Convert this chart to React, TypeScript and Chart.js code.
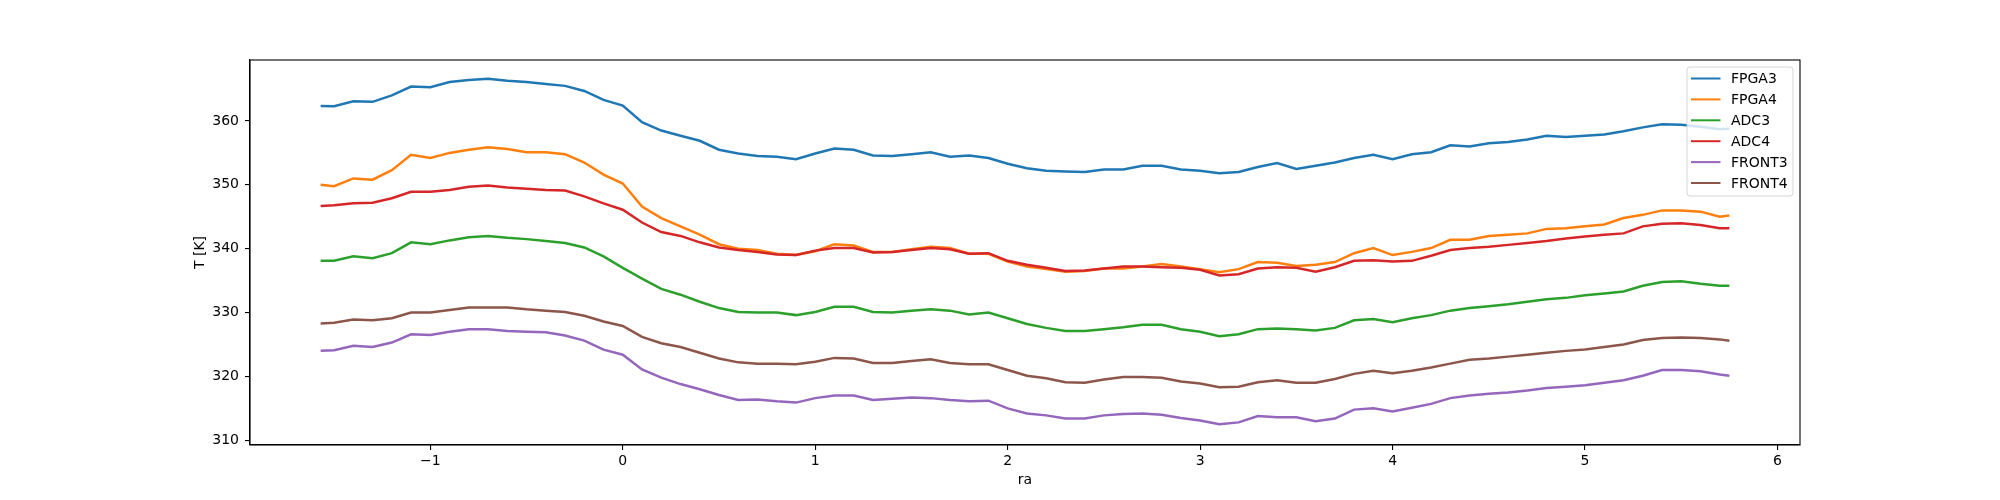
import { useEffect, useRef } from "react";
import { Chart, registerables } from "chart.js";

Chart.register(...registerables);

const RA = [
  -1.57, -1.5, -1.4, -1.3, -1.2, -1.1, -1.0, -0.9, -0.8, -0.7, -0.6, -0.5, -0.4, -0.3, -0.2, -0.1,
  0.0, 0.1, 0.2, 0.3, 0.4, 0.5, 0.6, 0.7, 0.8, 0.9, 1.0, 1.1, 1.2, 1.3, 1.4, 1.5, 1.6, 1.7, 1.8, 1.9,
  2.0, 2.1, 2.2, 2.3, 2.4, 2.5, 2.6, 2.7, 2.8, 2.9, 3.0, 3.1, 3.2, 3.3, 3.4, 3.5, 3.6, 3.7, 3.8, 3.9,
  4.0, 4.1, 4.2, 4.3, 4.4, 4.5, 4.6, 4.7, 4.8, 4.9, 5.0, 5.1, 5.2, 5.3, 5.4, 5.5, 5.6, 5.7, 5.75,
];

const FPGA3 = [
  362.35, 362.3, 363.1, 363.0, 364.0, 365.4, 365.3, 366.1, 366.4, 366.6, 366.3, 366.1, 365.8, 365.5, 364.7, 363.3,
  362.4, 359.8, 358.5, 357.7, 356.9, 355.5, 354.9, 354.5, 354.4, 354.0, 354.9, 355.7, 355.5, 354.6, 354.5, 354.8, 355.1, 354.4, 354.6, 354.2,
  353.3, 352.6, 352.2, 352.1, 352.0, 352.4, 352.4, 353.0, 353.0, 352.4, 352.2, 351.8, 352.0, 352.8, 353.4, 352.5, 353.0, 353.5, 354.2, 354.7,
  354.0, 354.8, 355.1, 356.2, 356.0, 356.5, 356.7, 357.1, 357.7, 357.5, 357.7, 357.9, 358.4, 359.0, 359.5, 359.4, 359.1, 358.7, 358.8,
];

const FPGA4 = [
  350.0, 349.8, 351.0, 350.8, 352.3, 354.7, 354.2, 355.0, 355.5, 355.9, 355.6, 355.1, 355.1, 354.8, 353.5, 351.6,
  350.2, 346.6, 344.8, 343.5, 342.2, 340.7, 340.0, 339.8, 339.2, 339.0, 339.6, 340.7, 340.5, 339.5, 339.5, 339.9, 340.3, 340.1, 339.2, 339.2,
  338.0, 337.2, 336.8, 336.4, 336.5, 336.9, 336.9, 337.2, 337.6, 337.2, 336.8, 336.3, 336.8, 337.9, 337.8, 337.3, 337.5, 337.9, 339.3, 340.1,
  339.0, 339.5, 340.1, 341.4, 341.4, 342.0, 342.2, 342.4, 343.1, 343.2, 343.5, 343.8, 344.8, 345.3, 346.0, 346.0, 345.8, 345.0, 345.2,
];

const ADC3 = [
  338.1, 338.1, 338.8, 338.5, 339.3, 341.0, 340.7, 341.3, 341.8, 342.0, 341.7, 341.5, 341.2, 340.9, 340.2, 338.8,
  337.0, 335.3, 333.7, 332.8, 331.7, 330.7, 330.1, 330.0, 330.0, 329.6, 330.1, 330.9, 330.9, 330.1, 330.0, 330.3, 330.5, 330.3, 329.7, 330.0,
  329.1, 328.2, 327.6, 327.1, 327.1, 327.4, 327.7, 328.1, 328.1, 327.4, 327.0, 326.3, 326.6, 327.4, 327.5, 327.4, 327.2, 327.6, 328.8, 329.0,
  328.5, 329.1, 329.6, 330.3, 330.7, 331.0, 331.3, 331.7, 332.1, 332.3, 332.7, 333.0, 333.3, 334.2, 334.8, 334.9, 334.5, 334.2, 334.2,
];

const ADC4 = [
  346.7, 346.8, 347.1, 347.2, 347.9, 348.9, 348.9, 349.2, 349.7, 349.9, 349.6, 349.4, 349.2, 349.1, 348.2, 347.1,
  346.1, 344.1, 342.6, 342.0, 341.0, 340.2, 339.8, 339.5, 339.1, 339.0, 339.7, 340.1, 340.1, 339.4, 339.5, 339.8, 340.1, 339.9, 339.2, 339.3,
  338.1, 337.5, 337.0, 336.5, 336.6, 336.9, 337.2, 337.2, 337.1, 337.0, 336.7, 335.8, 336.0, 336.9, 337.1, 337.0, 336.4, 337.1, 338.1, 338.2,
  338.0, 338.1, 338.9, 339.8, 340.1, 340.3, 340.6, 340.9, 341.2, 341.6, 341.9, 342.2, 342.4, 343.5, 343.9, 344.0, 343.7, 343.2, 343.2,
];

const FRONT3 = [
  324.0, 324.1, 324.8, 324.6, 325.3, 326.6, 326.5, 327.0, 327.4, 327.4, 327.1, 327.0, 326.9, 326.4, 325.6, 324.2,
  323.4, 321.1, 319.8, 318.8, 318.0, 317.1, 316.3, 316.4, 316.1, 315.9, 316.6, 317.0, 317.0, 316.3, 316.5, 316.7, 316.6, 316.3, 316.1, 316.2,
  315.0, 314.2, 313.9, 313.4, 313.4, 313.9, 314.1, 314.2, 314.0, 313.5, 313.1, 312.5, 312.8, 313.8, 313.6, 313.6, 313.0, 313.4, 314.8, 315.0,
  314.5, 315.1, 315.7, 316.6, 317.0, 317.3, 317.5, 317.8, 318.2, 318.4, 318.6, 319.0, 319.4, 320.1, 321.0, 321.0, 320.8, 320.3, 320.1,
];

const FRONT4 = [
  328.3, 328.4, 328.9, 328.8, 329.1, 330.0, 330.0, 330.4, 330.8, 330.8, 330.8, 330.5, 330.3, 330.1, 329.5, 328.6,
  327.9, 326.2, 325.2, 324.6, 323.7, 322.8, 322.2, 322.0, 322.0, 321.9, 322.3, 322.9, 322.8, 322.1, 322.1, 322.4, 322.7, 322.1, 321.9, 321.9,
  321.0, 320.1, 319.7, 319.1, 319.0, 319.5, 319.9, 319.9, 319.8, 319.2, 318.9, 318.3, 318.4, 319.1, 319.4, 319.0, 319.0, 319.6, 320.4, 320.9,
  320.5, 320.9, 321.4, 322.0, 322.6, 322.8, 323.1, 323.4, 323.7, 324.0, 324.2, 324.6, 325.0, 325.7, 326.0, 326.1, 326.0, 325.8, 325.6,
];

const SERIES_NAMES = ["FPGA3", "FPGA4", "ADC3", "ADC4", "FRONT3", "FRONT4"];
const SERIES_VALUES = [FPGA3, FPGA4, ADC3, ADC4, FRONT3, FRONT4];
const SERIES_COLORS = ["#1f77b4", "#ff7f0e", "#2ca02c", "#d62728", "#9467bd", "#8c564b"];

const X_TICKS = [-1, 0, 1, 2, 3, 4, 5, 6];
const Y_TICKS = [310, 320, 330, 340, 350, 360];
const X_LABEL = "ra";
const Y_LABEL = "T [K]";

const FONT_FAMILY = "'DejaVu Sans', sans-serif";

const axesBoxPlugin = {
  id: "axesBox",
  afterDraw(chart: any) {
    const { ctx, chartArea: a } = chart;
    ctx.save();
    ctx.strokeStyle = "#000";
    ctx.lineWidth = 1.1;
    ctx.strokeRect(a.left, a.top, a.right - a.left, a.bottom - a.top);
    ctx.restore();
  },
};

const insideLegendPlugin = {
  id: "insideLegend",
  afterDraw(chart: any) {
    const { ctx, chartArea: a } = chart;
    const w = 106;
    const h = 129;
    const x0 = a.right - 7 - w;
    const y0 = a.top + 7;
    const r = 3;
    ctx.save();
    ctx.beginPath();
    ctx.moveTo(x0 + r, y0);
    ctx.lineTo(x0 + w - r, y0);
    ctx.arcTo(x0 + w, y0, x0 + w, y0 + r, r);
    ctx.lineTo(x0 + w, y0 + h - r);
    ctx.arcTo(x0 + w, y0 + h, x0 + w - r, y0 + h, r);
    ctx.lineTo(x0 + r, y0 + h);
    ctx.arcTo(x0, y0 + h, x0, y0 + h - r, r);
    ctx.lineTo(x0, y0 + r);
    ctx.arcTo(x0, y0, x0 + r, y0, r);
    ctx.closePath();
    ctx.fillStyle = "rgba(255,255,255,0.8)";
    ctx.fill();
    ctx.strokeStyle = "rgba(204,204,204,0.8)";
    ctx.lineWidth = 1;
    ctx.stroke();

    ctx.font = `14px ${FONT_FAMILY}`;
    ctx.textAlign = "left";
    ctx.textBaseline = "middle";
    chart.data.datasets.forEach((ds: any, i: number) => {
      const y = y0 + 11.5 + i * 20.9;
      ctx.strokeStyle = ds.borderColor;
      ctx.lineWidth = 2;
      ctx.beginPath();
      ctx.moveTo(x0 + 4, y);
      ctx.lineTo(x0 + 33.5, y);
      ctx.stroke();
      ctx.fillStyle = "#000";
      ctx.fillText(ds.label, x0 + 44, y + 1);
    });
    ctx.restore();
  },
};

function formatTick(v: number): string {
  return v < 0 ? "\u2212" + String(Math.abs(v)) : String(v);
}

export default function App() {
  const canvasRef = useRef<HTMLCanvasElement | null>(null);

  useEffect(() => {
    const canvas = canvasRef.current;
    if (!canvas) return;
    const datasets = SERIES_NAMES.map((name, i) => ({
      label: name,
      data: RA.map((x, j) => ({ x, y: SERIES_VALUES[i][j] })),
      borderColor: SERIES_COLORS[i],
      backgroundColor: SERIES_COLORS[i],
      borderWidth: 2.5,
      pointRadius: 0,
      fill: false,
      tension: 0,
      order: SERIES_NAMES.length - 1 - i,
    }));

    const tickFont = { family: FONT_FAMILY, size: 14 };

    const chart = new Chart(canvas, {
      type: "line",
      data: { datasets },
      options: {
        responsive: false,
        maintainAspectRatio: false,
        devicePixelRatio: 1,
        animation: false,
        events: [],
        layout: { padding: { left: 193, right: 200, top: 60, bottom: 13 } },
        plugins: {
          legend: { display: false },
          tooltip: { enabled: false },
        },
        scales: {
          x: {
            type: "linear",
            min: -1.937,
            max: 6.117,
            afterBuildTicks: (scale: any) => {
              scale.ticks = X_TICKS.map((v) => ({ value: v }));
            },
            afterFit: (scale: any) => {
              scale.height = 42;
            },
            grid: {
              drawOnChartArea: false,
              drawTicks: true,
              tickLength: 5,
              color: "#000",
              lineWidth: 1.1,
            },
            border: { display: true, color: "#000", width: 1.1 },
            ticks: {
              color: "#000",
              font: tickFont,
              padding: 3,
              maxRotation: 0,
              autoSkip: false,
              callback: (v: any) => formatTick(Number(v)),
            },
            title: {
              display: true,
              text: X_LABEL,
              color: "#000",
              font: { family: FONT_FAMILY, size: 14, lineHeight: 1 },
              padding: 0,
            },
          },
          y: {
            type: "linear",
            min: 309.26,
            max: 369.55,
            afterBuildTicks: (scale: any) => {
              scale.ticks = Y_TICKS.map((v) => ({ value: v }));
            },
            afterFit: (scale: any) => {
              scale.width = 57;
            },
            grid: {
              drawOnChartArea: false,
              drawTicks: true,
              tickLength: 5,
              color: "#000",
              lineWidth: 1.1,
            },
            border: { display: true, color: "#000", width: 1.1 },
            ticks: {
              color: "#000",
              font: tickFont,
              padding: 6,
              autoSkip: false,
              callback: (v: any) => formatTick(Number(v)),
            },
            title: {
              display: true,
              text: Y_LABEL,
              color: "#000",
              font: { family: FONT_FAMILY, size: 14, lineHeight: 1 },
              padding: 0,
            },
          },
        },
      },
      plugins: [axesBoxPlugin, insideLegendPlugin],
    });

    return () => {
      chart.destroy();
    };
  }, []);

  return (
    <div style={{ position: "absolute", left: 0, top: 0, width: 2000, height: 500, background: "#fff" }}>
      <canvas ref={canvasRef} width={2000} height={500} style={{ display: "block", width: 2000, height: 500 }} />
    </div>
  );
}
